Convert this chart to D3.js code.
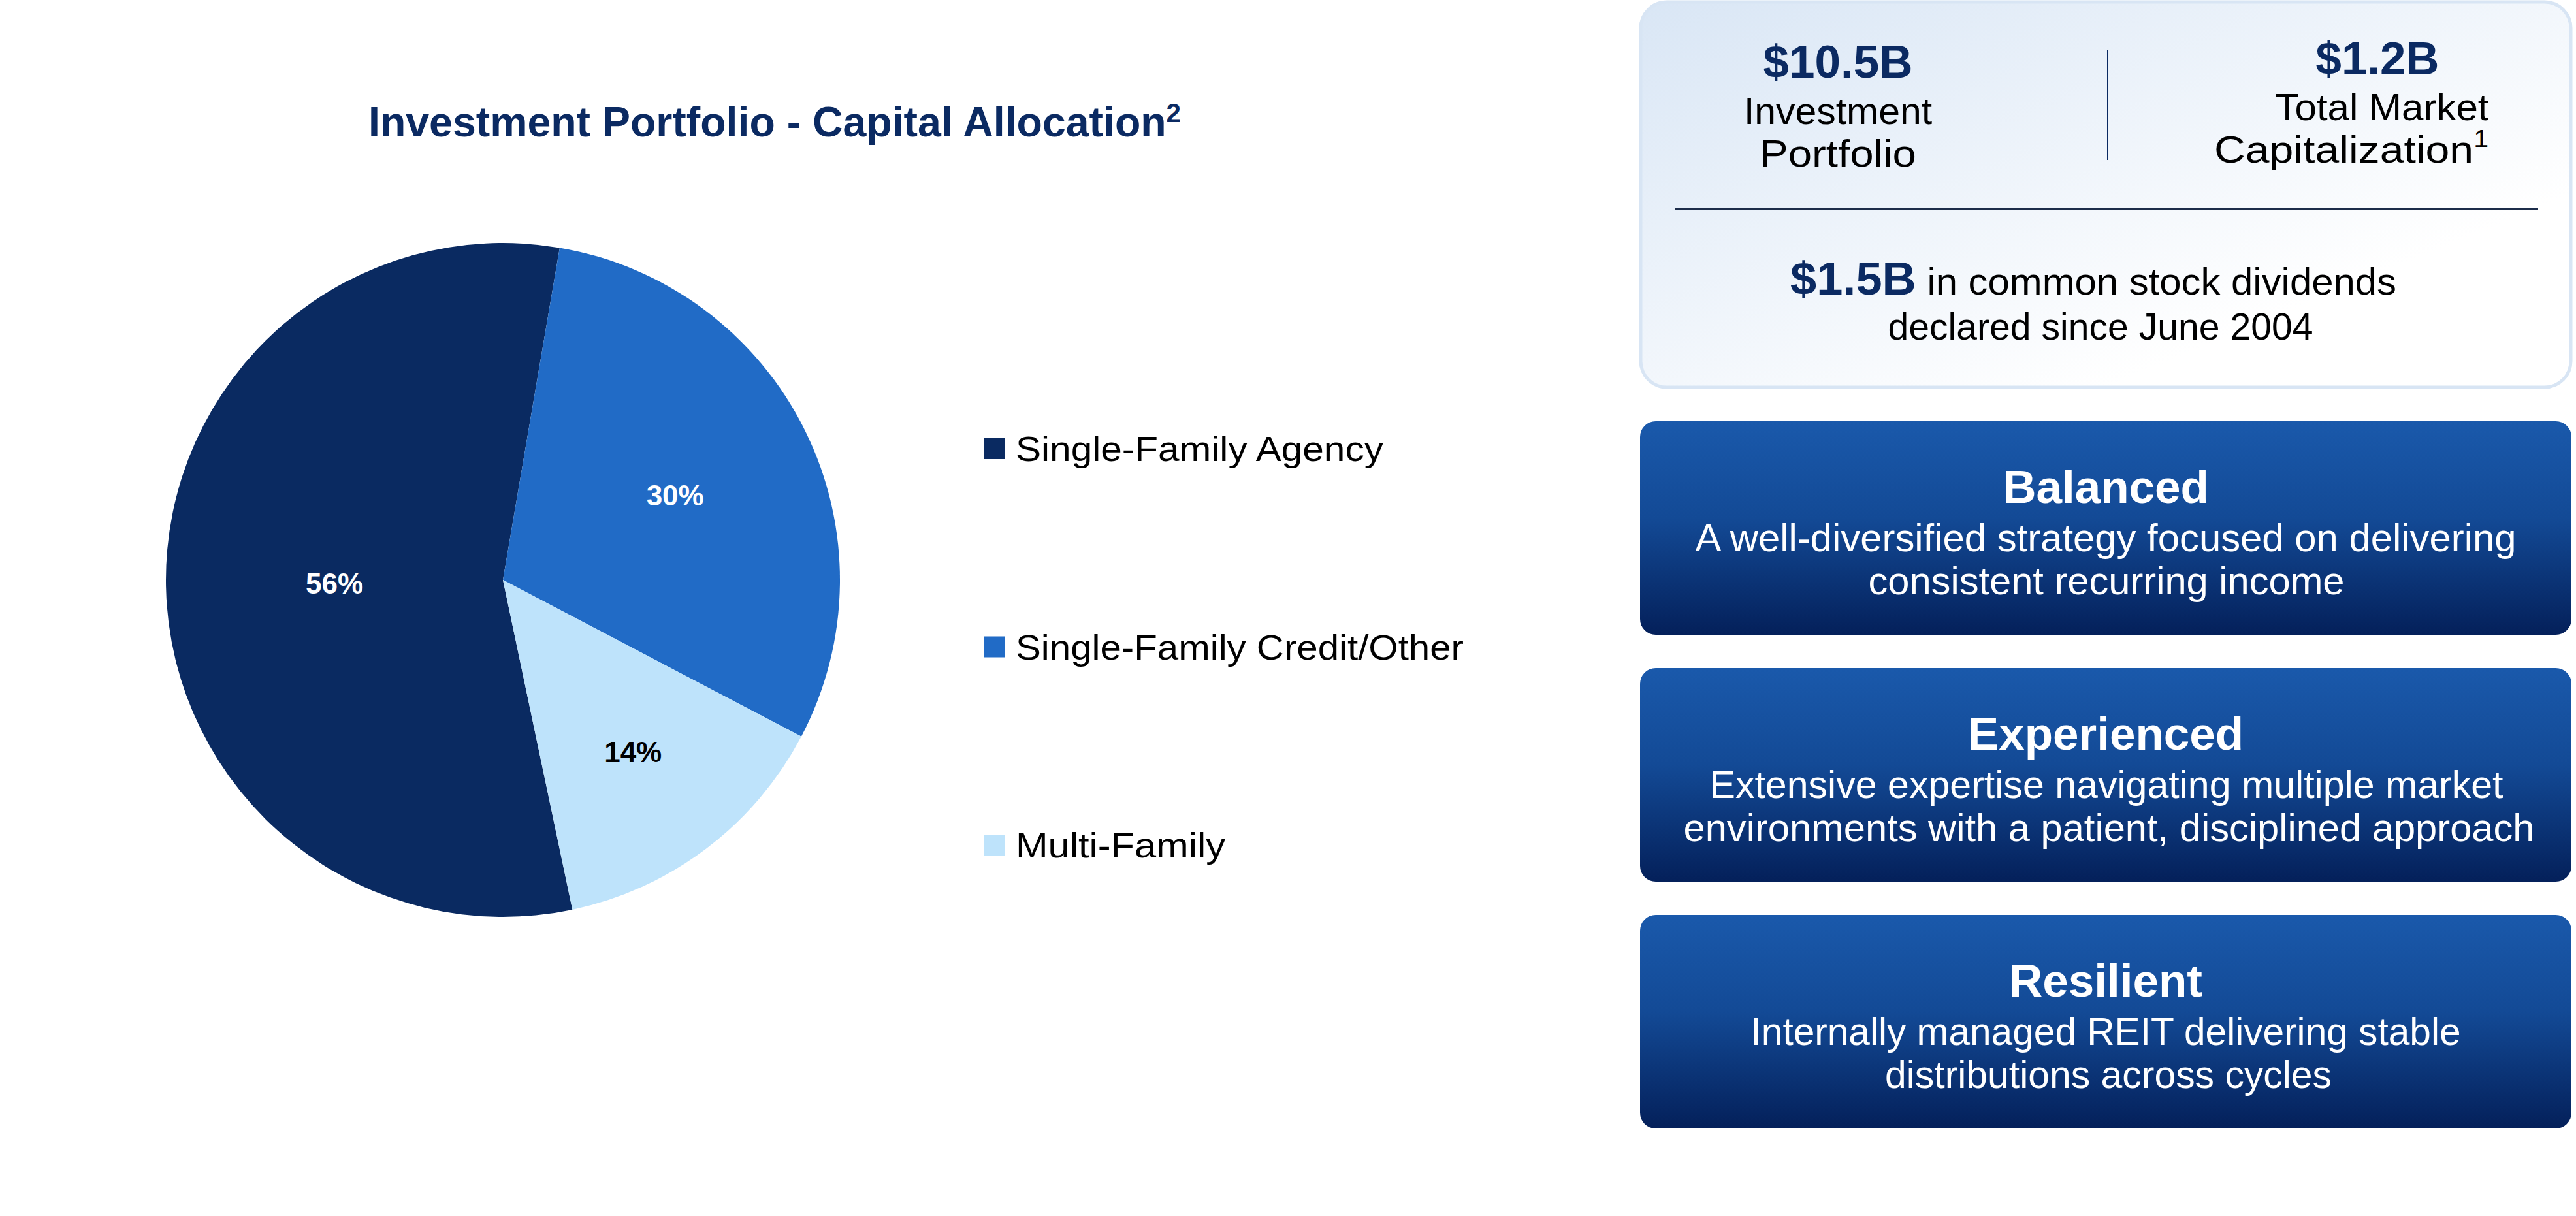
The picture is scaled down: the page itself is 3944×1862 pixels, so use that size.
<!DOCTYPE html>
<html><head><meta charset="utf-8">
<script src="https://cdn.jsdelivr.net/npm/d3@7"></script>
<style>html,body{margin:0;padding:0;background:#fff;}svg{display:block;}</style>
</head><body>
<script>
// ---- data ----
const categories = ["Single-Family Agency", "Single-Family Credit/Other", "Multi-Family"];
const shares = [56, 30, 14];
const sliceColors = ["#0a2a61", "#216bc6", "#bee3fb"];
const labelColors = ["#ffffff", "#ffffff", "#000000"];
const labelRadiusFrac = [0.50, 0.57, 0.64];

const chartTitle = "Investment Portfolio - Capital Allocation";
const titleNote = "2";

const statValues = ["$10.5B", "$1.2B"];
const statLabels = [["Investment", "Portfolio"], ["Total Market", "Capitalization"]];
const dividendValue = "$1.5B";
const dividendText = ["in common stock dividends", "declared since June 2004"];

const pillarTitles = ["Balanced", "Experienced", "Resilient"];
const pillarTexts = [
  ["A well-diversified strategy focused on delivering", "consistent recurring income"],
  ["Extensive expertise navigating multiple market", "environments with a patient, disciplined approach"],
  ["Internally managed REIT delivering stable", "distributions across cycles"]
];

// ---- layout ----
const W = 3944, H = 1862;
const FONT = "'Liberation Sans', Arial, Helvetica, sans-serif";
const NAVY = "#0b2a62";

const svg = d3.select("body").append("svg").attr("width", W).attr("height", H)
  .attr("viewBox", `0 0 ${W} ${H}`).style("font-family", FONT);
svg.append("rect").attr("width", W).attr("height", H).attr("fill", "#fff");

function fit(sel, w) {
  const n = sel.node();
  const cur = n.getComputedTextLength();
  if (Math.abs(cur - w) > 2) sel.attr("textLength", w).attr("lengthAdjust", "spacingAndGlyphs");
  return sel;
}

// title
const title = svg.append("text").attr("x", 564).attr("y", 209)
  .attr("font-size", 64).attr("font-weight", "bold").attr("fill", NAVY);
title.append("tspan").text(chartTitle);
title.append("tspan").attr("font-size", 40).attr("dy", -22).text(titleNote);
fit(title, 1244);

// pie
const cx = 770, cy = 888, R = 516;
const startA = 168.1 * Math.PI / 180;
const pie = d3.pie().sort(null).value(d => d).startAngle(startA).endAngle(startA + 2 * Math.PI);
const arcs = pie(shares);
const arc = d3.arc().innerRadius(0).outerRadius(R);
const pg = svg.append("g").attr("transform", `translate(${cx},${cy})`);
pg.selectAll("path.slice").data(arcs).join("path").attr("class", "slice")
  .attr("d", arc).attr("fill", (d, i) => sliceColors[i]);
pg.selectAll("text.lbl").data(arcs).join("text").attr("class", "lbl")
  .attr("transform", (d, i) => {
    const a = d3.arc().innerRadius(R * labelRadiusFrac[i]).outerRadius(R * labelRadiusFrac[i]);
    const c = a.centroid(d);
    return `translate(${c[0]},${c[1]})`;
  })
  .attr("text-anchor", "middle").attr("dy", "0.36em")
  .attr("font-size", 44).attr("font-weight", "bold")
  .attr("fill", (d, i) => labelColors[i])
  .text(d => d.data + "%");

// legend
const legY = d3.scalePoint().domain(categories).range([687, 1294]);
const legendWidths = [563, 686, 321];
const lg = svg.append("g");
categories.forEach((c, i) => {
  const y = legY(c);
  lg.append("rect").attr("x", 1507).attr("y", y - 16).attr("width", 32).attr("height", 32).attr("fill", sliceColors[i]);
  const t = lg.append("text").attr("x", 1555).attr("y", y + 19).attr("font-size", 54).attr("fill", "#000").text(c);
  fit(t, legendWidths[i]);
});

// right panel - top box
const defs = svg.append("defs");
const lgTop = defs.append("linearGradient").attr("id", "gTop").attr("x1", 0).attr("y1", 0).attr("x2", 1).attr("y2", 1);
lgTop.append("stop").attr("offset", 0).attr("stop-color", "#d9e6f5");
lgTop.append("stop").attr("offset", 0.75).attr("stop-color", "#ffffff");
lgTop.append("stop").attr("offset", 1).attr("stop-color", "#ffffff");
const lgBlue = defs.append("linearGradient").attr("id", "gBlue").attr("x1", 0).attr("y1", 0).attr("x2", 0).attr("y2", 1);
lgBlue.append("stop").attr("offset", 0).attr("stop-color", "#1a59ab");
lgBlue.append("stop").attr("offset", 0.45).attr("stop-color", "#134a96");
lgBlue.append("stop").attr("offset", 1).attr("stop-color", "#04205a");

svg.append("rect").attr("x", 2512).attr("y", 3).attr("width", 1424).attr("height", 590)
  .attr("rx", 40).attr("fill", "url(#gTop)").attr("stroke", "#d8e5f4").attr("stroke-width", 5);

const statX = [2814, 3640];
const statW = [229, 189];
statValues.forEach((v, i) => {
  const t = svg.append("text").attr("x", statX[i]).attr("y", i === 0 ? 119 : 114).attr("text-anchor", "middle")
    .attr("font-size", 70).attr("font-weight", "bold").attr("fill", NAVY).text(v);
  fit(t, statW[i]);
});
const labW = [[288, 240], [327, 420]];
const labX = [[2814, 2814], [3647, 3600]];
statLabels.forEach((ls, i) => {
  ls.forEach((l, j) => {
    const t = svg.append("text").attr("x", labX[i][j]).attr("y", (i === 0 ? 190 : 184) + j * 65)
      .attr("text-anchor", "middle").attr("font-size", 58).attr("fill", "#000");
    t.append("tspan").text(l);
    if (i === 1 && j === 1) t.append("tspan").attr("font-size", 36).attr("dy", -24).text("1");
    fit(t, labW[i][j]);
  });
});
svg.append("line").attr("x1", 3227).attr("x2", 3227).attr("y1", 76).attr("y2", 245).attr("stroke", NAVY).attr("stroke-width", 2);
svg.append("line").attr("x1", 2565).attr("x2", 3886).attr("y1", 320).attr("y2", 320).attr("stroke", "#1d2d4a").attr("stroke-width", 2);

const d1 = svg.append("text").attr("x", 3205).attr("y", 451).attr("text-anchor", "middle").attr("font-size", 58).attr("fill", "#000");
d1.append("tspan").attr("font-size", 70).attr("font-weight", "bold").attr("fill", NAVY).text(dividendValue);
d1.append("tspan").text(" " + dividendText[0]);
fit(d1, 928);
const d2 = svg.append("text").attr("x", 3216).attr("y", 520).attr("text-anchor", "middle").attr("font-size", 58).attr("fill", "#000").text(dividendText[1]);
fit(d2, 651);

// pillar boxes
const boxY = d3.scalePoint().domain(pillarTitles).range([645, 1401]);
const lineW = [[1257, 729], [1215, 1303], [1087, 684]];
const lineX = [[3224, 3225], [3225, 3229], [3224, 3228]];
pillarTitles.forEach((p, i) => {
  const y0 = boxY(p);
  svg.append("rect").attr("x", 2511).attr("y", y0).attr("width", 1426).attr("height", 327)
    .attr("rx", 24).attr("fill", "url(#gBlue)");
  svg.append("text").attr("x", 3224).attr("y", y0 + 125).attr("text-anchor", "middle")
    .attr("font-size", 71).attr("font-weight", "bold").attr("fill", "#fff").text(p);
  pillarTexts[i].forEach((l, j) => {
    const s = svg.append("text").attr("x", lineX[i][j]).attr("y", y0 + 199 + j * 66).attr("text-anchor", "middle")
      .attr("font-size", 60).attr("fill", "#fff").text(l);
    fit(s, lineW[i][j]);
  });
});
</script>
</body></html>
